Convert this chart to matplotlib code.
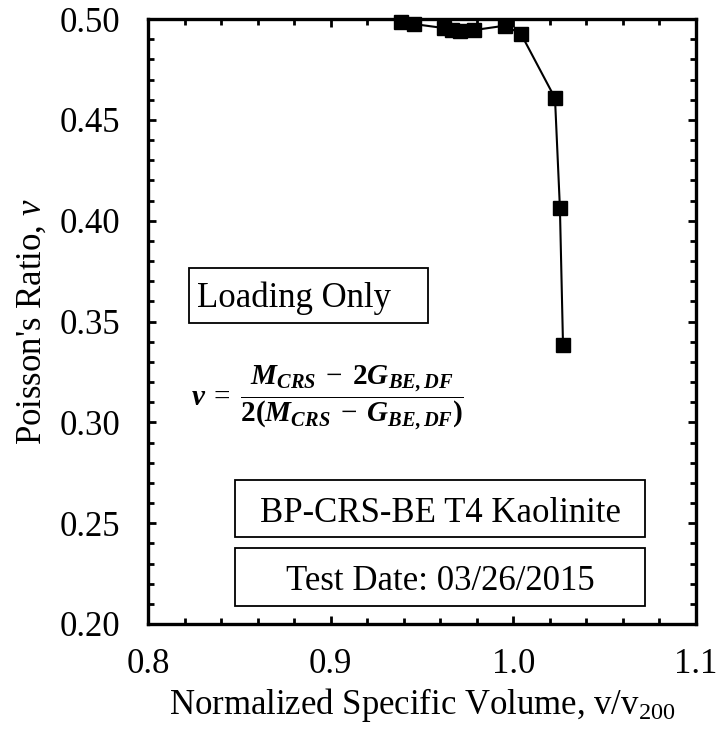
import matplotlib
matplotlib.use("Agg")
import matplotlib.pyplot as plt
from matplotlib.patches import Rectangle
from matplotlib.ticker import MultipleLocator, FormatStrFormatter

# normalized specific volume v/v200 and Poisson's ratio (loading only)
vol = [0.9385, 0.9456, 0.9620, 0.9664, 0.9708, 0.9785, 0.9954, 1.0042, 1.0228, 1.0255, 1.0272]
nu = [0.4985, 0.4975, 0.4955, 0.4945, 0.4940, 0.4945, 0.4967, 0.4926, 0.4608, 0.4063, 0.3384]

x_ticks = [0.8, 0.9, 1.0, 1.1]
y_ticks = [0.20, 0.25, 0.30, 0.35, 0.40, 0.45, 0.50]

plt.rcParams["font.family"] = ["Liberation Serif", "DejaVu Serif"]
plt.rcParams["mathtext.fontset"] = "custom"
plt.rcParams["mathtext.rm"] = "Liberation Serif"
plt.rcParams["mathtext.it"] = "Liberation Serif:italic"
plt.rcParams["mathtext.bf"] = "Liberation Serif:bold"
plt.rcParams["mathtext.bfit"] = "Liberation Serif:italic:bold"

fig = plt.figure(figsize=(7.17, 7.32), dpi=100)
ax = fig.add_axes([148/717, 108/732, 548/717, 605/732])

ax.plot(vol, nu, color="black", lw=1.5, marker="s", ms=10, clip_on=False, zorder=3)

ax.set_xlim(0.8, 1.1)
ax.set_ylim(0.2, 0.5)
ax.set_xticks(x_ticks)
ax.set_yticks(y_ticks)
ax.xaxis.set_major_formatter(FormatStrFormatter("%.1f"))
ax.yaxis.set_major_formatter(FormatStrFormatter("%.2f"))
ax.xaxis.set_minor_locator(MultipleLocator(0.02))
ax.yaxis.set_minor_locator(MultipleLocator(0.01))

for s in ax.spines.values():
    s.set_linewidth(2.4)
ax.tick_params(which="both", direction="in", top=True, right=True, width=2)
ax.tick_params(which="major", length=6)
ax.tick_params(which="minor", length=4.5)
ax.tick_params(axis="x", which="major", labelsize=25, pad=17)
ax.tick_params(axis="y", which="major", labelsize=25, pad=20)

ax.set_xlabel("Normalized Specific Volume, v/v$_{200}$", fontsize=25, labelpad=4)
ax.set_ylabel("Poisson's Ratio, $\\nu$", fontsize=25, labelpad=8)

# text boxes
def box(x0, y0, x1, y1):
    ax.add_patch(Rectangle((x0, y0), x1 - x0, y1 - y0, transform=ax.transAxes,
                           fill=False, ec="black", lw=1.3, zorder=4))

box(0.075, 0.4975, 0.511, 0.588)
ax.text(0.089, 0.524, "Loading Only", transform=ax.transAxes, fontsize=25, va="baseline")

formula = (r"$\mathbfit{\nu}\;=\;\dfrac{\mathbfit{M}_{\mathbfit{CRS}}\;-\;\mathbf{2}\mathbfit{G}_{\mathbfit{BE,DF}}}"
           r"{\mathbf{2(}\mathbfit{M}_{\mathbfit{CRS}}\;-\;\mathbfit{G}_{\mathbfit{BE,DF}}\mathbf{)}}$")
ax.text(0.079, 0.3736, formula, transform=ax.transAxes, fontsize=21, va="center", ha="left")

box(0.1588, 0.1438, 0.907, 0.238)
ax.text(0.533, 0.1686, "BP-CRS-BE T4 Kaolinite", transform=ax.transAxes, fontsize=25,
        ha="center", va="baseline")
box(0.1588, 0.0298, 0.907, 0.1256)
ax.text(0.533, 0.0562, "Test Date: 03/26/2015", transform=ax.transAxes, fontsize=25,
        ha="center", va="baseline")

fig.savefig("out.png", dpi=100)
